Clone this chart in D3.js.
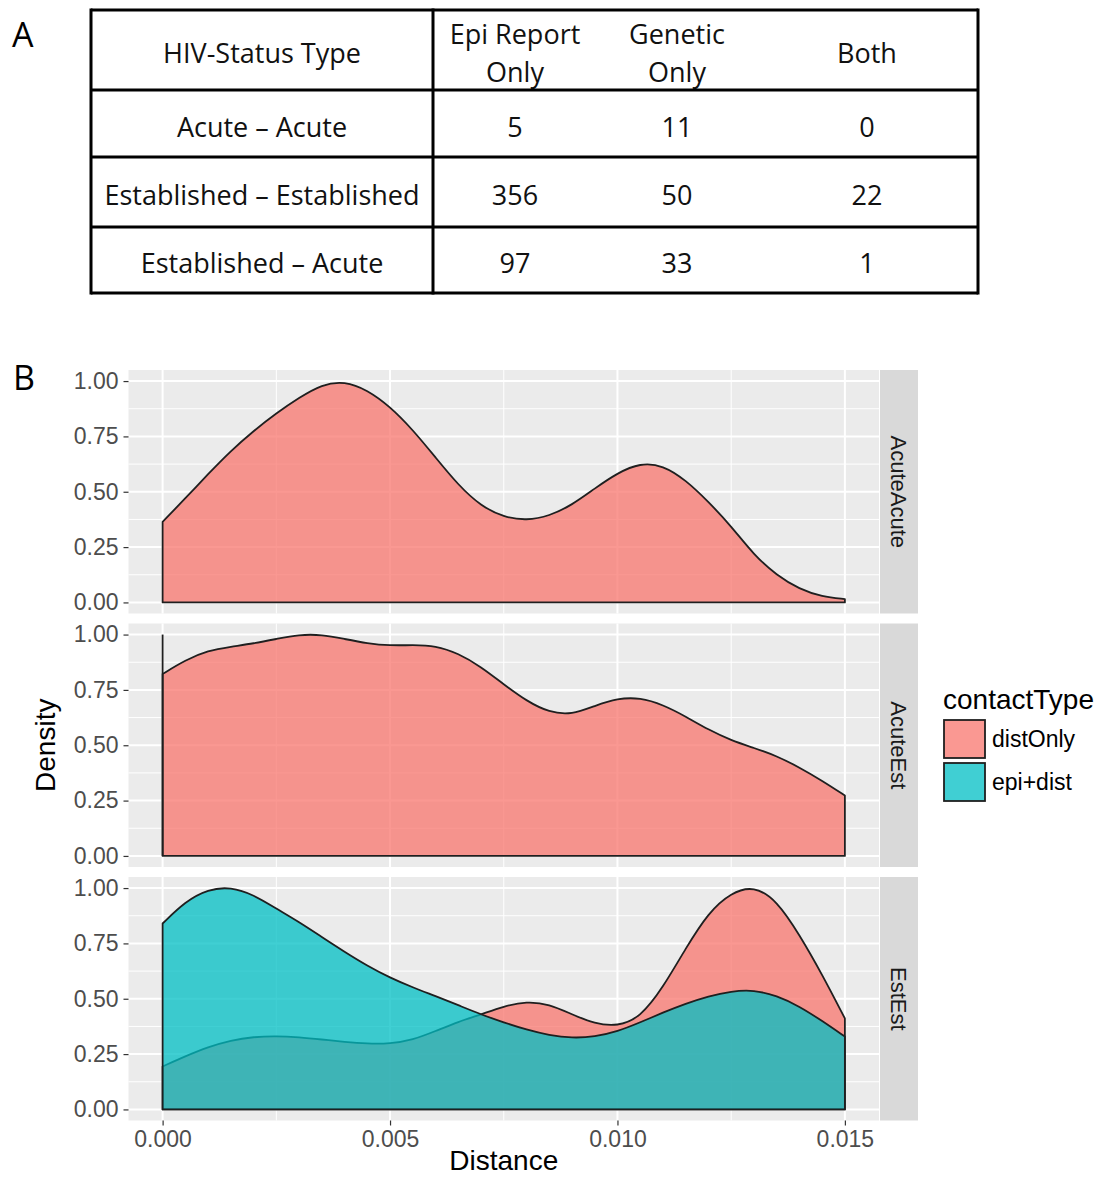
<!DOCTYPE html>
<html>
<head>
<meta charset="utf-8">
<script src="https://cdn.jsdelivr.net/npm/d3@7"></script>
<style>
  body { margin: 0; background: #fff; }
  .table-text { font-family: "Open Sans", sans-serif; font-size: 27px; fill: #111; }
  .gg { font-family: "Liberation Sans", Arial, sans-serif; }
</style>
</head>
<body>
<svg id="chart"></svg>
<script>
// ---- Panel A: table values ----
let statusTypes = ["Acute – Acute", "Established – Established", "Established – Acute"];
let epiReportOnly = [5, 356, 97];
let geneticOnly = [11, 50, 33];
let bothCounts = [0, 22, 1];
let columnHeaders = [["HIV-Status Type"], ["Epi Report", "Only"], ["Genetic", "Only"], ["Both"]];

// ---- Panel B: scaled densities ----
let distance = [0, 0.0005, 0.001, 0.0015, 0.002, 0.0025, 0.003, 0.0035, 0.004, 0.0045,
  0.005, 0.0055, 0.006, 0.0065, 0.007, 0.0075, 0.008, 0.0085, 0.009, 0.0095,
  0.010, 0.0105, 0.011, 0.0115, 0.012, 0.0125, 0.013, 0.0135, 0.014, 0.0145, 0.015];

let acuteAcuteDistOnly = [0.364, 0.47, 0.58, 0.685, 0.775, 0.855, 0.925, 0.985, 1.0, 0.96,
  0.885, 0.78, 0.655, 0.53, 0.435, 0.385, 0.37, 0.39, 0.44, 0.515,
  0.585, 0.63, 0.62, 0.553, 0.455, 0.345, 0.214, 0.123, 0.06, 0.026, 0.015];

let acuteEstDistOnly = [0.822, 0.885, 0.928, 0.945, 0.96, 0.98, 1.0, 1.0, 0.98, 0.96,
  0.95, 0.953, 0.95, 0.915, 0.855, 0.775, 0.70, 0.648, 0.638, 0.678,
  0.712, 0.715, 0.683, 0.63, 0.57, 0.522, 0.488, 0.452, 0.40, 0.34, 0.273];
// the density spikes to 1 right at distance 0
let acuteEstEdge = 1.0;

let estEstDistOnly = [0.194, 0.24, 0.282, 0.312, 0.328, 0.332, 0.326, 0.316, 0.305, 0.297,
  0.297, 0.314, 0.354, 0.396, 0.429, 0.466, 0.488, 0.476, 0.429, 0.387,
  0.375, 0.415, 0.55, 0.728, 0.89, 0.98, 1.01, 0.945, 0.79, 0.61, 0.411];

let estEstEpiDist = [0.84, 0.94, 0.995, 1.005, 0.97, 0.907, 0.847, 0.779, 0.712, 0.649,
  0.595, 0.551, 0.512, 0.471, 0.429, 0.393, 0.36, 0.335, 0.322, 0.328,
  0.352, 0.393, 0.438, 0.478, 0.512, 0.534, 0.54, 0.514, 0.466, 0.40, 0.329];

let contactTypes = ["distOnly", "epi+dist"];
let contactColors = ["#F8766D", "#00BFC4"];
let yTicks = [0, 0.25, 0.5, 0.75, 1];
let yMinor = [0.125, 0.375, 0.625, 0.875];
let xTicks = [0, 0.005, 0.010, 0.015];
let xMinor = [0.0025, 0.0075, 0.0125];

let panels = [
  { label: "AcuteAcute", series: [{ type: 0, values: acuteAcuteDistOnly }] },
  { label: "AcuteEst", series: [{ type: 0, values: acuteEstDistOnly, edge: acuteEstEdge }] },
  { label: "EstEst", series: [{ type: 0, values: estEstDistOnly }, { type: 1, values: estEstEpiDist }] }
];

let width = 1102;
let height = 1177;

let svg = d3.select("#chart")
  .attr("width", width)
  .attr("height", height);

svg.append("rect").attr("width", width).attr("height", height).attr("fill", "#fff");

// ================= A: table =================
let tableLeft = 91, tableRight = 978, tableDivider = 433;
let rowLines = [10, 90, 157, 227, 293];
let colCenters = [262, 515, 677, 867];

svg.append("text")
  .attr("x", 12).attr("y", 47)
  .attr("font-family", "Open Sans, sans-serif")
  .attr("font-size", 34)
  .text("A");

let table = svg.append("g");

// header
columnHeaders.forEach(function(lines, c) {
  let t = table.append("text")
    .attr("class", "table-text")
    .attr("text-anchor", "middle");
  let first = 63 - (lines.length - 1) * 19;
  lines.forEach(function(line, i) {
    t.append("tspan")
      .attr("x", colCenters[c])
      .attr("y", first + i * 38)
      .text(line);
  });
});

// body rows
let rows = statusTypes.map(function(s, i) {
  return [s, epiReportOnly[i], geneticOnly[i], bothCounts[i]];
});
rows.forEach(function(row, r) {
  let mid = (rowLines[r + 1] + rowLines[r + 2]) / 2;
  row.forEach(function(cell, c) {
    table.append("text")
      .attr("class", "table-text")
      .attr("text-anchor", "middle")
      .attr("x", colCenters[c])
      .attr("y", mid + 13)
      .text(cell);
  });
});

// borders
rowLines.forEach(function(y) {
  table.append("line")
    .attr("x1", tableLeft).attr("x2", tableRight)
    .attr("y1", y).attr("y2", y)
    .attr("stroke", "#000").attr("stroke-width", 3);
});
[tableLeft, tableDivider, tableRight].forEach(function(x) {
  table.append("line")
    .attr("x1", x).attr("x2", x)
    .attr("y1", rowLines[0] - 1.5).attr("y2", rowLines[rowLines.length - 1] + 1.5)
    .attr("stroke", "#000").attr("stroke-width", 3);
});

// ================= B: faceted densities =================
svg.append("text")
  .attr("x", 13).attr("y", 390)
  .attr("font-family", "Open Sans, sans-serif")
  .attr("font-size", 34)
  .text("B");

let panelLeft = 128.5, panelRight = 879;
let panelTop = 370, panelHeight = 243.5, panelGap = 10;
let stripWidth = 38;

let x = d3.scaleLinear()
  .domain([-0.00075, 0.01575])
  .range([panelLeft, panelRight]);

let area = d3.area()
  .curve(d3.curveBasis);

panels.forEach(function(p, i) {
  let top = panelTop + i * (panelHeight + panelGap);
  let y = d3.scaleLinear()
    .domain([-0.05, 1.05])
    .range([top + panelHeight, top]);

  let g = svg.append("g");

  g.append("rect")
    .attr("x", panelLeft).attr("y", top)
    .attr("width", panelRight - panelLeft).attr("height", panelHeight)
    .attr("fill", "#EBEBEB");

  // grid
  g.selectAll(".ymin").data(yMinor).enter().append("line")
    .attr("x1", panelLeft).attr("x2", panelRight)
    .attr("y1", y).attr("y2", y)
    .attr("stroke", "#fff").attr("stroke-width", 1);
  g.selectAll(".xmin").data(xMinor).enter().append("line")
    .attr("x1", x).attr("x2", x)
    .attr("y1", top).attr("y2", top + panelHeight)
    .attr("stroke", "#fff").attr("stroke-width", 1);
  g.selectAll(".ymaj").data(yTicks).enter().append("line")
    .attr("x1", panelLeft).attr("x2", panelRight)
    .attr("y1", y).attr("y2", y)
    .attr("stroke", "#fff").attr("stroke-width", 2);
  g.selectAll(".xmaj").data(xTicks).enter().append("line")
    .attr("x1", x).attr("x2", x)
    .attr("y1", top).attr("y2", top + panelHeight)
    .attr("stroke", "#fff").attr("stroke-width", 2);

  // densities
  p.series.forEach(function(s) {
    let pts = distance.map(function(d, k) { return [d, s.values[k]]; });
    area.x(function(d) { return x(d[0]); })
      .y0(y(0))
      .y1(function(d) { return y(d[1]); });
    g.append("path")
      .attr("d", area(pts) + "Z")
      .attr("fill", contactColors[s.type])
      .attr("fill-opacity", 0.75)
      .attr("stroke", "#1f1f1f")
      .attr("stroke-width", 1.8)
      .attr("stroke-linejoin", "round");
    if (s.edge !== undefined) {
      g.append("line")
        .attr("x1", x(0)).attr("x2", x(0))
        .attr("y1", y(0)).attr("y2", y(s.edge))
        .attr("stroke", "#1f1f1f").attr("stroke-width", 1.8);
    }
  });

  // y axis
  let yAxis = g.append("g")
    .attr("class", "gg")
    .attr("transform", "translate(" + panelLeft + ",0)")
    .call(d3.axisLeft(y).tickValues(yTicks).tickFormat(d3.format(".2f")).tickSize(5).tickPadding(5));
  yAxis.select(".domain").remove();
  yAxis.selectAll(".tick line").attr("stroke", "#333").attr("stroke-width", 1.2);
  yAxis.selectAll("text").attr("fill", "#4D4D4D").attr("font-size", 23);

  // strip
  g.append("rect")
    .attr("x", panelRight + 1).attr("y", top)
    .attr("width", stripWidth).attr("height", panelHeight)
    .attr("fill", "#D9D9D9");
  g.append("text")
    .attr("class", "gg")
    .attr("transform", "translate(" + (panelRight + 1 + stripWidth / 2) + "," + (top + panelHeight / 2) + ") rotate(90)")
    .attr("text-anchor", "middle")
    .attr("dy", "0.35em")
    .attr("font-size", 22)
    .attr("fill", "#1A1A1A")
    .text(p.label);

  if (i === panels.length - 1) {
    let xAxis = g.append("g")
      .attr("class", "gg")
      .attr("transform", "translate(0," + (top + panelHeight) + ")")
      .call(d3.axisBottom(x).tickValues(xTicks).tickFormat(d3.format(".3f")).tickSize(5).tickPadding(5));
    xAxis.select(".domain").remove();
    xAxis.selectAll(".tick line").attr("stroke", "#333").attr("stroke-width", 1.2);
    xAxis.selectAll("text").attr("fill", "#4D4D4D").attr("font-size", 23);
  }
});

let plotBottom = panelTop + panels.length * panelHeight + (panels.length - 1) * panelGap;

svg.append("text")
  .attr("class", "gg")
  .attr("x", (panelLeft + panelRight) / 2)
  .attr("y", 1170)
  .attr("text-anchor", "middle")
  .attr("font-size", 28)
  .attr("fill", "#000")
  .text("Distance");

svg.append("text")
  .attr("class", "gg")
  .attr("transform", "translate(55," + (panelTop + plotBottom) / 2 + ") rotate(-90)")
  .attr("text-anchor", "middle")
  .attr("font-size", 28)
  .attr("fill", "#000")
  .text("Density");

// legend
let legend = svg.append("g").attr("class", "gg");
legend.append("text")
  .attr("x", 943).attr("y", 709)
  .attr("font-size", 28)
  .text("contactType");
contactTypes.forEach(function(ct, i) {
  let ky = 720 + i * 43;
  legend.append("rect")
    .attr("x", 944).attr("y", ky)
    .attr("width", 41).attr("height", 38)
    .attr("fill", contactColors[i])
    .attr("fill-opacity", 0.75)
    .attr("stroke", "#1f1f1f")
    .attr("stroke-width", 1.8);
  legend.append("text")
    .attr("x", 992).attr("y", ky + 19)
    .attr("dy", "0.35em")
    .attr("font-size", 23)
    .text(ct);
});
</script>
</body>
</html>
